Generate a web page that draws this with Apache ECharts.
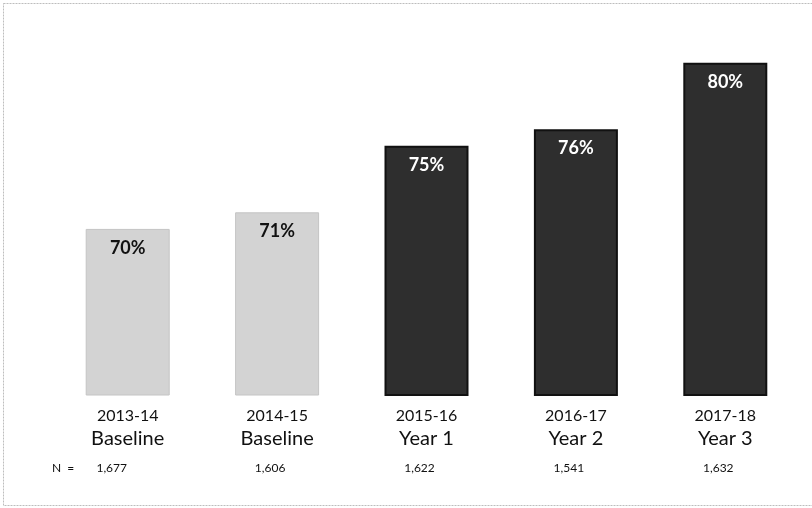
<!DOCTYPE html>
<html><head><meta charset="utf-8">
<script src="https://cdn.jsdelivr.net/npm/echarts@6/dist/echarts.min.js"></script>
<style>html,body{margin:0;padding:0;background:#fff}#c{width:812px;height:508px}</style>
</head><body><div id="c"></div>
<script>
var years = ['2013-14','2014-15','2015-16','2016-17','2017-18'];
var phases = ['Baseline','Baseline','Year 1','Year 2','Year 3'];
var nCounts = ['1,677','1,606','1,622','1,541','1,632'];
var values = [70, 71, 75, 76, 80];
var isBaseline = [true, true, false, false, false];

var chart = echarts.init(document.getElementById('c'));
var FONT = 'Lato, "Open Sans", sans-serif';
chart.setOption({
  animation: false,
  backgroundColor: '#fff',
  grid: {left: 53, right: 12, top: 13, bottom: 113, containLabel: false},
  xAxis: {
    type: 'category', data: years,
    axisLine: {show: false}, axisTick: {show: false},
    axisLabel: {
      margin: 10, interval: 0,
      formatter: function (v, i) {
        return '{a|' + v + '}\n{b|' + phases[i] + '}\n{' + (i === 0 ? 'n0' : 'n') + '|' + nCounts[i] + '}';
      },
      rich: {
        a: {fontFamily: FONT, fontSize: 16, color: '#111', lineHeight: 22},
        b: {fontFamily: FONT, fontSize: 20, color: '#111', lineHeight: 24},
        n: {fontFamily: FONT, fontSize: 12, color: '#111', lineHeight: 34, padding: [0, 14, 0, 0]},
        n0: {fontFamily: FONT, fontSize: 12, color: '#111', lineHeight: 34, padding: [0, 32, 0, 0]}
      }
    }
  },
  yAxis: {type: 'value', min: 60, max: 83, show: false, splitLine: {show: false}},
  series: [{
    type: 'bar', barWidth: 84,
    data: values.map(function (v, i) {
      return {
        value: v,
        itemStyle: isBaseline[i]
          ? {color: '#d3d3d3', borderColor: '#c4c4c4', borderWidth: 1}
          : {color: '#2e2e2e', borderColor: '#111', borderWidth: 2},
        label: {color: isBaseline[i] ? '#111' : '#fff'}
      };
    }),
    label: {
      show: true, position: 'insideTop', distance: 10,
      fontFamily: FONT, fontSize: 18, fontWeight: 'bold',
      formatter: '{c}%'
    }
  }],
  graphic: [
    {type: 'rect', shape: {x: 3.5, y: 3.5, width: 820, height: 502}, silent: true,
     style: {fill: 'none', stroke: '#bdbdbd', lineWidth: 1, lineDash: [2, 1]}},
    {type: 'text', left: 52, top: 462, silent: true,
     style: {text: 'N  =', fontFamily: FONT, fontSize: 12, fill: '#111'}}
  ]
});
</script></body></html>
